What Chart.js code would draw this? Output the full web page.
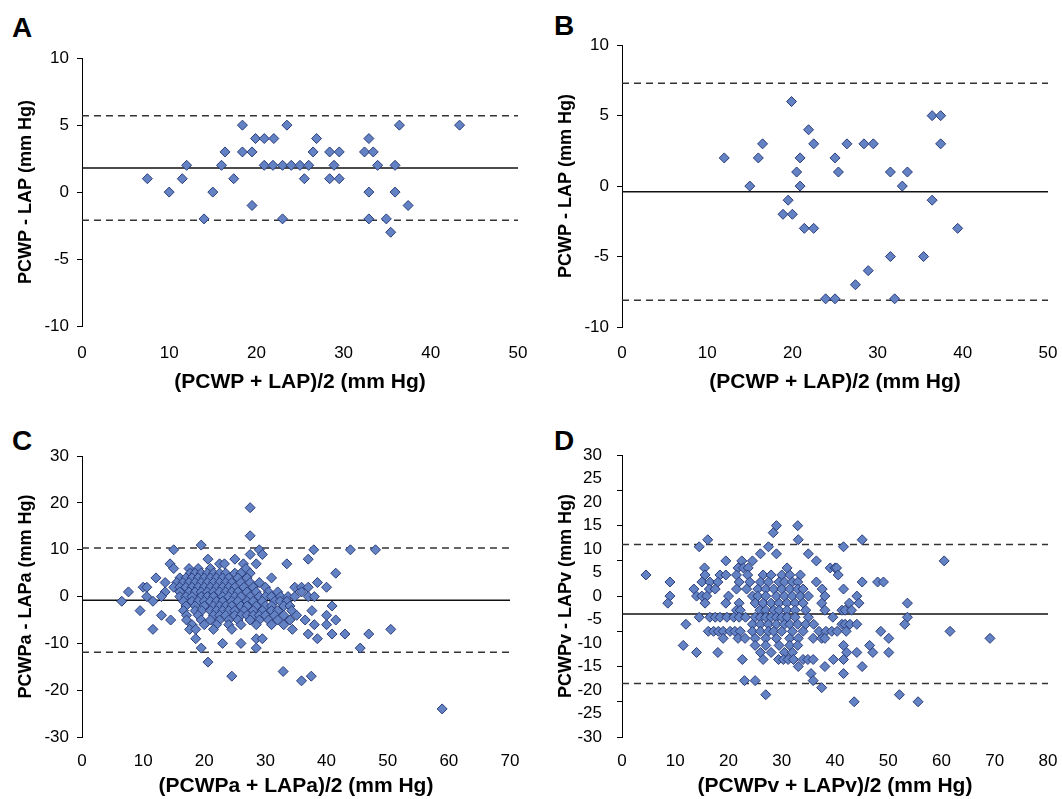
<!DOCTYPE html>
<html>
<head>
<meta charset="utf-8">
<script src="https://cdn.jsdelivr.net/npm/chart.js@4.4.0/dist/chart.umd.min.js"></script>
<style>
  body { margin: 0; background: #fff; width: 1062px; height: 799px; position: relative; overflow: hidden; font-family: 'Liberation Sans', Arial, sans-serif; }
  canvas { position: absolute; }
  .tag { position: absolute; font-weight: bold; font-size: 28px; line-height: 1; color: #000; }
</style>
</head>
<body>
<div class="tag" style="left:12px;top:14px">A</div>
<div class="tag" style="left:554px;top:12px">B</div>
<div class="tag" style="left:12px;top:427px">C</div>
<div class="tag" style="left:554px;top:427px">D</div>

<canvas id="cA" width="530" height="360" style="left:0;top:40px"></canvas>
<canvas id="cB" width="522" height="373" style="left:540px;top:27px"></canvas>
<canvas id="cC" width="530" height="361" style="left:0;top:438px"></canvas>
<canvas id="cD" width="522" height="361" style="left:540px;top:438px"></canvas>

<script>
// bias line, upper and lower limits of agreement
const linesA = [1.8, 5.7, -2.1];
const linesB = [-0.4, 7.3, -8.1];
const linesC = [-0.8, 10.4, -11.9];
const linesD = [-3.8, 11.0, -18.6];

// panel A: [mean, difference]
const ptsA = [
  [18.4,5],[23.5,5],[36.4,5],[43.3,5],
  [19.9,4],[20.9,4],[22.0,4],[26.9,4],[32.9,4],
  [16.4,3],[18.4,3],[19.5,3],[26.5,3],[28.4,3],[29.5,3],[32.4,3],[33.4,3],
  [12.0,2],[16.0,2],[20.9,2],[21.9,2],[23.0,2],[24.0,2],[25.0,2],[26.0,2],[28.9,2],[33.9,2],[35.9,2],
  [7.5,1],[11.5,1],[17.4,1],[25.5,1],[28.4,1],[29.5,1],
  [10.0,0],[15.0,0],[32.9,0],[35.9,0],
  [19.5,-1],[37.4,-1],
  [14.0,-2],[23.0,-2],[32.9,-2],[34.9,-2],
  [35.4,-3]
];

// panel B
const ptsB = [
  [19.9,6],
  [36.4,5],[37.4,5],
  [21.9,4],
  [16.5,3],[22.5,3],[26.4,3],[28.4,3],[29.5,3],[37.4,3],
  [12.0,2],[16.0,2],[20.9,2],[25.0,2],
  [20.5,1],[25.4,1],[31.5,1],[33.5,1],
  [15.0,0],[20.9,0],[32.9,0],
  [19.5,-1],[36.4,-1],
  [18.9,-2],[20.0,-2],
  [21.4,-3],[22.5,-3],[39.4,-3],
  [31.5,-5],[35.4,-5],
  [28.9,-6],
  [27.4,-7],
  [23.9,-8],[25.0,-8],[32.0,-8]
];

// panel C, by row: [difference, [means...]]
const rowsC = [
  [19, [27.5]],
  [13, [27.5]],
  [11, [19.5]],
  [10, [15, 29, 37.9, 43.9, 48]],
  [9, [27.5, 29.5]],
  [8, [20.6, 25, 37]],
  [7, [14.4, 22.5, 23.3, 26.4, 28.5, 33.5]],
  [6, [15, 17.5, 19, 21, 26.8]],
  [5, [17.7, 18.5, 19.5, 20.5, 21.5, 22.5, 23.5, 25, 26, 27.5, 41.5]],
  [4, [12.1, 16, 17, 18, 19, 20, 21, 22, 23, 24, 25.5, 27, 31]],
  [3, [13.6, 15.5, 16.5, 17.5, 18.5, 19.5, 20.5, 21.5, 22.5, 23.5, 24.5, 26, 27.5, 29, 38.5]],
  [2, [10, 10.6, 15, 16, 17, 18, 19, 20, 21, 22, 23, 24, 25, 26.5, 28, 30, 34.8, 35.9, 37, 40]],
  [1, [7.6, 13.6, 16, 17.5, 18.5, 19.5, 20.5, 21.5, 22.5, 23.5, 24.5, 25.5, 27, 28.5, 30.5, 32, 35.9]],
  [0, [10.6, 13, 16, 17, 18, 19.5, 20.5, 21.5, 23, 24, 25, 26, 27.5, 29, 30, 31, 32.5, 33.7, 34.8, 37, 38]],
  [-1, [6.5, 11.6, 16.6, 18, 19, 20, 21, 22, 23, 24.5, 25.5, 27, 28, 29.5, 31.5, 32.4, 33.5]],
  [-2, [17, 18.5, 20, 21.5, 22.5, 23.5, 24.5, 26, 27, 28.5, 30, 31, 33, 34, 40.9]],
  [-3, [9.5, 16.6, 18.5, 19.6, 21, 22, 23, 24, 25, 26.5, 28, 29.5, 31, 32, 34.3, 37.6]],
  [-4, [13, 17.1, 19, 21.5, 22.5, 23.5, 25, 26, 27, 28, 29, 30, 31.5, 33, 35.1, 40]],
  [-5, [14.5, 17.1, 19.5, 21, 22.5, 24, 25.5, 27.5, 29, 30.5, 32, 34, 36.5, 41.5]],
  [-6, [18, 20, 22, 24, 26, 28.5, 31, 33, 38, 40]],
  [-7, [11.6, 17.6, 18.6, 21.5, 24.5, 34.4, 50.5]],
  [-8, [37, 40.9, 43, 46.9]],
  [-9, [18.6, 28.5, 29.5, 38.5]],
  [-10, [23, 26]],
  [-11, [19.5, 28.5, 45.5]],
  [-14, [20.6]],
  [-16, [32.9]],
  [-17, [24.5, 37.5]],
  [-18, [35.9]],
  [-24, [58.9]]
];

// panel D, by row: [difference, [means...]]
const rowsD = [
  [15, [29.0, 33.0]],
  [13.5, [28.4]],
  [12, [16.1, 33.1, 45.1]],
  [10.5, [14.5, 27.5, 41.6]],
  [9, [26.0, 29.0, 35.0]],
  [7.5, [19.5, 22.5, 24.5, 36.5, 60.5]],
  [6, [15.5, 21.8, 22.8, 23.7, 31.0, 39.1, 40.0, 40.3]],
  [4.5, [4.5, 15.6, 18.4, 19.5, 21.5, 23.6, 26.5, 28.0, 30.0, 31.5, 33.5, 40.6]],
  [3, [9.0, 15.0, 16.5, 18.0, 22.0, 24.0, 26.0, 27.5, 29.5, 30.5, 32.0, 33.0, 36.5, 45.1, 48.0, 49.1]],
  [1.5, [13.5, 16.4, 17.5, 21.5, 23.4, 25.5, 27.0, 28.5, 30.0, 31.5, 33.0, 34.0, 37.6, 41.6]],
  [0, [9.0, 14.0, 15.0, 15.9, 20.0, 24.5, 25.5, 27.0, 29.0, 30.5, 32.0, 33.5, 35.0, 38.1, 44.1]],
  [-1.5, [8.6, 15.6, 19.5, 22.0, 25.0, 26.5, 28.0, 29.5, 31.0, 32.5, 34.0, 37.5, 42.7, 44.5, 53.6]],
  [-3, [21.5, 22.2, 25.9, 27.0, 28.5, 29.5, 31.0, 32.5, 34.5, 38.1, 41.3, 41.9, 43.1]],
  [-4.5, [14.5, 16.5, 17.5, 18.4, 19.7, 21.0, 22.0, 23.2, 25.0, 26.0, 27.0, 28.0, 29.0, 30.0, 31.0, 32.5, 35.0, 39.6, 53.6]],
  [-6, [12.0, 24.5, 26.0, 27.5, 29.0, 30.5, 31.5, 33.0, 34.5, 36.0, 41.3, 41.9, 42.8, 44.1, 53.1]],
  [-7.5, [16.2, 17.2, 18.1, 19.0, 20.3, 21.2, 22.2, 24.5, 26.0, 27.5, 28.5, 30.0, 32.0, 34.0, 37.0, 38.3, 39.4, 40.4, 42.1, 48.6, 61.6]],
  [-9, [19.0, 21.8, 23.1, 25.0, 27.0, 29.0, 31.5, 33.1, 35.9, 37.5, 38.1, 50.1, 69.1]],
  [-10.5, [11.5, 25.0, 27.0, 29.5, 31.5, 33.0, 41.6, 46.5]],
  [-12, [14.0, 18.0, 26.0, 28.0, 30.5, 32.0, 42.2, 44.1, 47.1, 50.1]],
  [-13.5, [22.6, 26.5, 29.4, 30.3, 31.2, 32.2, 34.0, 34.9, 35.9, 39.7, 41.6]],
  [-15, [33.1, 38.1, 45.1]],
  [-16.5, [35.5, 41.6]],
  [-18, [23.0, 25.0, 35.9]],
  [-19.5, [37.5]],
  [-21, [27.0, 52.1]],
  [-22.5, [43.6, 55.6]]
];

Chart.defaults.font.family = "'Liberation Sans', Arial, sans-serif";
Chart.defaults.color = '#000';

const FILL = '#6282c4';
const EDGE = '#2b3c7a';

function fromRows(rows) {
  const out = [];
  rows.forEach(r => r[1].forEach(x => out.push([x, r[0]])));
  return out;
}

function hline(y, xMax, dashed) {
  return {
    type: 'line',
    data: [{x: 0, y: y}, {x: xMax, y: y}],
    borderColor: dashed ? '#333' : '#111',
    borderWidth: 1.5,
    borderDash: dashed ? [7, 5] : [],
    pointRadius: 0,
    fill: false,
    order: 2
  };
}

function makePanel(id, pts, lines, o) {
  const scales = {
    x: {
      type: 'linear', min: 0, max: o.xMax,
      grid: {display: false}, border: {display: false},
      // small padding keeps the plot wide; line height pushes labels down
      ticks: {stepSize: 10, padding: 2, font: {size: 17, lineHeight: o.xLH}},
      title: {display: true, text: o.xTitle, font: {size: 21, weight: 'bold'}, padding: {top: 0, bottom: o.xTitlePad}},
      afterFit: s => { s.height = o.xH; }
    },
    y: {
      min: o.yMin, max: o.yMax,
      grid: {drawOnChartArea: false, drawTicks: true, tickLength: 5, color: '#000'},
      border: {display: true, color: '#000', width: 1},
      ticks: {stepSize: o.yStep, padding: 8, font: {size: 17}},
      title: {display: true, text: o.yTitle, font: {size: 18, weight: 'bold'}, padding: {top: 15, bottom: 0}},
      afterFit: s => { s.width = 82; }
    }
  };
  if (o.markStep) {
    // labels on one axis, tick marks on another with their own spacing
    scales.y.grid = {display: false};
    scales.y.border = {display: false};
    scales.y.ticks.padding = 7;
    scales.y.weight = 1;
    scales.y.afterFit = s => { s.width = 77; };
    scales.yt = {
      position: 'left', weight: 0, min: o.yMin, max: o.yMax,
      ticks: {display: false, stepSize: o.markStep},
      grid: {drawOnChartArea: false, drawTicks: true, tickLength: 5, color: '#000'},
      border: {display: true, color: '#000', width: 1},
      afterFit: s => { s.width = 5; }
    };
  }
  new Chart(document.getElementById(id), {
    type: 'scatter',
    data: {
      datasets: [
        {
          data: pts.map(p => ({x: p[0], y: p[1]})),
          pointStyle: 'rectRot', pointRadius: 5, pointHoverRadius: 5,
          backgroundColor: FILL, borderColor: EDGE, borderWidth: 1,
          order: 1
        },
        hline(lines[0], o.xMax, false),
        hline(lines[1], o.xMax, true),
        hline(lines[2], o.xMax, true)
      ]
    },
    options: {
      responsive: false,
      animation: false,
      devicePixelRatio: 1,
      events: [],
      layout: {padding: {top: o.padTop, right: o.padRight, left: 0, bottom: 0}},
      plugins: {legend: {display: false}, tooltip: {enabled: false}},
      scales: scales
    }
  });
}

makePanel('cA', ptsA, linesA, {
  xMax: 50, yMin: -10, yMax: 10, yStep: 5, xLH: 2.0, xH: 74, xTitlePad: 5,
  padTop: 17, padRight: 12,
  xTitle: '(PCWP + LAP)/2 (mm Hg)', yTitle: 'PCWP - LAP (mm Hg)'
});
makePanel('cB', ptsB, linesB, {
  xMax: 50, yMin: -10, yMax: 10, yStep: 5, xLH: 1.9, xH: 73, xTitlePad: 5,
  padTop: 17, padRight: 14,
  xTitle: '(PCWP + LAP)/2 (mm Hg)', yTitle: 'PCWP - LAP (mm Hg)'
});
makePanel('cC', fromRows(rowsC), linesC, {
  xMax: 70, yMin: -30, yMax: 30, yStep: 10, xLH: 1.67, xH: 62, xTitlePad: 0,
  padTop: 17, padRight: 20,
  xTitle: '(PCWPa + LAPa)/2 (mm Hg)', yTitle: 'PCWPa - LAPa (mm Hg)'
});
makePanel('cD', fromRows(rowsD), linesD, {
  xMax: 80, yMin: -30, yMax: 30, yStep: 5, markStep: 7.5, xLH: 1.67, xH: 62, xTitlePad: 0,
  padTop: 17, padRight: 14,
  xTitle: '(PCWPv + LAPv)/2 (mm Hg)', yTitle: 'PCWPv - LAPv (mm Hg)'
});
</script>
</body>
</html>
